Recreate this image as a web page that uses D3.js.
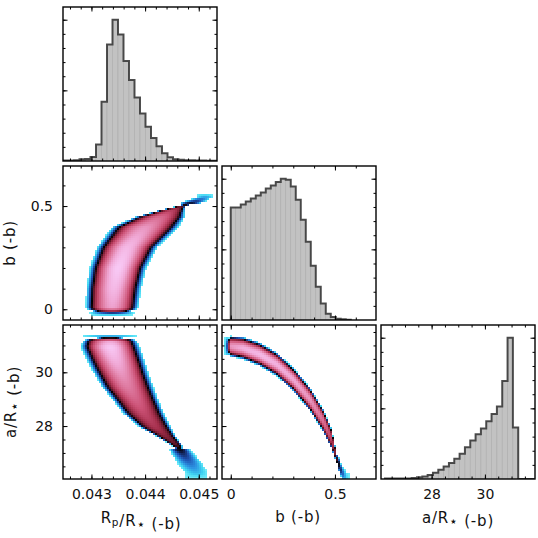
<!DOCTYPE html>
<html>
<head>
<meta charset="utf-8">
<script src="https://cdn.jsdelivr.net/npm/d3@7"></script>
<style>
  body { margin: 0; background: #fff; }
  svg text { font-family: 'DejaVu Sans', 'Liberation Sans', sans-serif; fill: #111; }
</style>
</head>
<body>
<svg id="chart" width="538" height="538"></svg>
<script>
// ---- values ----

// axis limits
const rpRange = [0.04247, 0.04534];
const bRangeX = [-0.042, 0.697];
const bRangeY = [-0.052, 0.694];
const aRangeX = [26.1, 31.88];
const aRangeY = [26.03, 31.76];

// tick values and labels
const rpMinor = d3.range(213, 227).map(k => k * 0.0002);
const rpMajor = [0.043, 0.044, 0.045];
const rpLabels = ['0.043', '0.044', '0.045'];
const bMinor = [0, 0.1, 0.2, 0.3, 0.4, 0.5, 0.6];
const bMajor = [0, 0.5];
const bLabels = ['0', '0.5'];
const aMinor = [26.5, 27, 27.5, 28, 28.5, 29, 29.5, 30, 30.5, 31, 31.5];
const aMajor = [28, 30];
const aLabels = ['28', '30'];

// 1-d histograms (relative counts)
const rpBinStart = 0.04247, rpBinWidth = 0.0001025;
const rpCounts = [4, 4, 6, 12, 14, 28, 116, 419, 824, 1000, 896, 708, 574, 449,
  337, 243, 163, 104, 55, 27, 13, 8, 6, 5, 4, 3, 2, 2];
const bBinStart = 0, bBinWidth = 0.024;
const bCounts = [796, 796, 817, 839, 860, 881, 903, 931, 952, 977, 1000, 993, 945,
  851, 709, 554, 384, 235, 116, 45, 21, 9, 5, 2];
const aBinStart = 26.25, aBinWidth = 0.2;
const aCounts = [4, 4, 4, 4, 4, 7, 12, 17, 29, 45, 65, 88, 113, 144, 178, 225, 273,
  317, 358, 408, 460, 513, 693, 1000, 365, 0, 0, 0];

// Rp vs b cloud, sampled along b: ridge centre, half width to the dark edge, peak level
const rbB = [-0.032, -0.022, -0.012, -0.004, 0.01, 0.1, 0.2, 0.3, 0.398, 0.447, 0.479,
  0.495, 0.519, 0.544, 0.56];
const rbRp = [0.043383, 0.043383, 0.043383, 0.043383, 0.043385, 0.043417, 0.043495,
  0.043668, 0.044004, 0.044277, 0.0445, 0.044637, 0.044898, 0.045115, 0.045115];
const rbHalf = [0.0003, 0.0003, 0.00034, 0.00037, 0.00038, 0.000394, 0.00041, 0.000435,
  0.000484, 0.000385, 0.000224, 0.000125, 0.00016, 0.00012, 0.00012];
const rbPeak = [0, 0.15, 0.4, 0.7, 0.88, 0.95, 1.0, 0.95, 0.85, 0.72, 0.58, 0.45, 0.28, 0.12, 0];

// Rp vs a/R* cloud, sampled along a/R*
const raA = [26.05, 26.24, 26.61, 26.98, 27.29, 27.6, 27.97, 28.47, 28.97, 29.46,
  29.96, 30.46, 30.95, 31.14, 31.25, 31.33, 31.4];
const raRp = [0.04496, 0.04496, 0.044836, 0.044699, 0.044587, 0.044401, 0.044184,
  0.043973, 0.043824, 0.043675, 0.043557, 0.043451, 0.043352, 0.043345, 0.043345,
  0.043345, 0.043345];
const raHalf = [0.00016, 0.00016, 0.00018, 0.00016, 0.00013, 0.000186, 0.000279,
  0.000335, 0.000354, 0.000385, 0.000397, 0.000416, 0.000428, 0.000397, 0.000397,
  0.000397, 0.000397];
const raPeak = [0, 0.09, 0.18, 0.28, 0.42, 0.48, 0.55, 0.62, 0.7, 0.78, 0.85, 0.93,
  1.0, 0.9, 0.5, 0.15, 0];

// b vs a/R* cloud, sampled along b
const baB = [-0.03, -0.02, -0.01, 0, 0.059, 0.139, 0.22, 0.30, 0.38, 0.444, 0.484, 0.508, 0.532, 0.556, 0.57];
const baA = [30.97, 30.97, 30.97, 30.97, 30.90, 30.67, 30.30, 29.74, 29.0, 28.20, 27.52, 26.80, 26.30, 26.05, 26.0];
const baHalf = [0.26, 0.27, 0.29, 0.298, 0.323, 0.341, 0.341, 0.341, 0.341, 0.341, 0.335, 0.223, 0.186, 0.186, 0.186];
const baPeak = [0, 0.15, 0.5, 0.85, 0.92, 0.95, 0.93, 0.9, 0.85, 0.75, 0.6, 0.42, 0.25, 0.05, 0];

// axis titles: [text, subscript?]
const rpTitle = [['R'], ['p', 1], ['/R'], ['\u22C6', 2], [' (-b)']];
const bTitle = [['b (-b)']];
const aTitle = [['a/R'], ['\u22C6', 2], [' (-b)']];

// ---- layout ----
const SIZE = 154;
const colX = [63, 222, 381];
const rowY = [7, 166, 325];
const CELLS = 77;
const LB = 0.36;    // level where the colour map goes black
const FRINGE = 0.3; // width of the blue rim, in units of the half width

const svg = d3.select('#chart');

const xRp = d3.scaleLinear().domain(rpRange).range([colX[0], colX[0] + SIZE]);
const xB = d3.scaleLinear().domain(bRangeX).range([colX[1], colX[1] + SIZE]);
const xA = d3.scaleLinear().domain(aRangeX).range([colX[2], colX[2] + SIZE]);
const yB = d3.scaleLinear().domain(bRangeY).range([rowY[1] + SIZE, rowY[1]]);
const yA = d3.scaleLinear().domain(aRangeY).range([rowY[2] + SIZE, rowY[2]]);

const color = d3.scaleLinear()
  .domain([0, 0.06, 0.14, 0.22, 0.30, 0.36, 0.42, 0.52, 0.65, 0.8, 0.9, 1])
  .range(['#74ecf9', '#42d6f3', '#2c93e2', '#1f52b2', '#0f1a44', '#000000',
    '#5a1526', '#a02c48', '#cc5276', '#e283aa', '#f0a9d6', '#f8c9f5'])
  .clamp(true);

let clipId = 0;
function panel(col, row) {
  const id = 'clip' + (clipId++);
  svg.append('clipPath').attr('id', id).append('rect')
    .attr('x', colX[col]).attr('y', rowY[row]).attr('width', SIZE).attr('height', SIZE);
  return svg.append('g').attr('clip-path', `url(#${id})`);
}

function ridge(tArr, cArr, hArr, pArr) {
  const c = d3.scaleLinear(tArr, cArr).clamp(true);
  const h = d3.scaleLinear(tArr, hArr).clamp(true);
  const p = d3.scaleLinear(tArr, pArr).clamp(true);
  return (t, u) => {
    const pk = p(t);
    if (pk <= 0) return -1;
    const d = Math.abs(u - c(t)) / h(t);
    const k = Math.max(pk - LB, pk / 1.7);
    if (pk <= LB) return pk - k * d * d;
    const db = Math.sqrt((pk - LB) / k);
    return d <= db ? pk - k * d * d : LB * (1 - (d - db) / FRINGE);
  };
}

// alongY: ridge parameter is the y variable
function drawCloud(g, x, y, level, alongY) {
  const [x0, x1] = x.domain(), [y0, y1] = y.domain();
  const dx = (x1 - x0) / CELLS, dy = (y1 - y0) / CELLS;
  const cells = [];
  for (let i = 0; i < CELLS; i++) {
    for (let j = 0; j < CELLS; j++) {
      const xv = x0 + (i + 0.5) * dx, yv = y0 + (j + 0.5) * dy;
      const v = alongY ? level(yv, xv) : level(xv, yv);
      if (v > 0) cells.push({ xv, yv, v });
    }
  }
  g.selectAll(null).data(cells).enter().append('rect')
    .attr('x', d => x(d.xv - dx / 2))
    .attr('y', d => y(d.yv + dy / 2))
    .attr('width', x(x0 + dx) - x(x0))
    .attr('height', y(y0) - y(y0 + dy))
    .attr('fill', d => color(d.v))
    .attr('shape-rendering', 'crispEdges');
}

function drawHist(g, x, start, width, counts, row) {
  const y = d3.scaleLinear().domain([0, d3.max(counts) * 1.09])
    .range([rowY[row] + SIZE, rowY[row]]);
  const bins = counts.map((c, i) => ({ x0: start + i * width, x1: start + (i + 1) * width, c }));
  g.selectAll(null).data(bins).enter().append('rect')
    .attr('x', d => x(d.x0))
    .attr('width', d => x(d.x1) - x(d.x0))
    .attr('y', d => y(d.c))
    .attr('height', d => y(0) - y(d.c))
    .attr('fill', '#c2c2c2')
    .attr('stroke', '#acacac')
    .attr('stroke-width', 0.6);
  const pts = [[bins[0].x0, 0]];
  bins.forEach(d => pts.push([d.x0, d.c], [d.x1, d.c]));
  pts.push([bins[bins.length - 1].x1, 0]);
  g.append('path')
    .attr('d', d3.line().x(p => x(p[0])).y(p => y(p[1]))(pts))
    .attr('fill', 'none')
    .attr('stroke', '#333')
    .attr('stroke-opacity', 0.85)
    .attr('stroke-width', 2);
  return y;
}

function tickSet(scale, axisFn, values, len, tx, ty) {
  svg.append('g')
    .attr('transform', `translate(${tx},${ty})`)
    .call(axisFn(scale).tickValues(values).tickSize(-len).tickSizeOuter(0).tickFormat(''))
    .call(s => s.select('.domain').remove())
    .selectAll('line').attr('stroke', '#000').attr('stroke-width', 1);
}

function frame(col, row, x, y, xt, yt) {
  const l = colX[col], t = rowY[row], r = l + SIZE, b = t + SIZE;
  [[xt[0], 2.5], [xt[1], 4.5]].forEach(([v, len]) => {
    tickSet(x, d3.axisBottom, v, len, 0, b);
    tickSet(x, d3.axisTop, v, len, 0, t);
  });
  [[yt[0], 2.5], [yt[1], 4.5]].forEach(([v, len]) => {
    tickSet(y, d3.axisLeft, v, len, l, 0);
    tickSet(y, d3.axisRight, v, len, r, 0);
  });
  svg.append('rect')
    .attr('x', l).attr('y', t).attr('width', SIZE).attr('height', SIZE)
    .attr('fill', 'none').attr('stroke', '#000').attr('stroke-width', 1.4);
}

function labels(scale, axisFn, values, texts, tx, ty, pad) {
  svg.append('g')
    .attr('transform', `translate(${tx},${ty})`)
    .call(axisFn(scale).tickValues(values).tickSize(0).tickPadding(pad)
      .tickFormat((d, i) => texts[i]))
    .call(s => s.select('.domain').remove())
    .call(s => s.attr('font-family', null).attr('font-size', null))
    .selectAll('text').style('font-size', '14px');
}

// sub: 1 = subscript letter, 2 = subscript star
function title(parts, x, y, rotate) {
  const t = svg.append('text')
    .attr('text-anchor', 'middle')
    .attr('transform', `translate(${x},${y})` + (rotate ? ' rotate(-90)' : ''))
    .style('font-size', '15px')
    .style('letter-spacing', '0.8px');
  parts.forEach(([s, sub]) => {
    t.append('tspan')
      .attr('dy', sub ? 3 : 0)
      .style('font-size', sub === 2 ? '14px' : sub ? '10.5px' : '15px')
      .text(s);
    if (sub) t.append('tspan').attr('dy', -3).text('');
  });
}

// ---- diagonal histograms ----
const yHrp = drawHist(panel(0, 0), xRp, rpBinStart, rpBinWidth, rpCounts, 0);
const yHb = drawHist(panel(1, 1), xB, bBinStart, bBinWidth, bCounts, 1);
const yHa = drawHist(panel(2, 2), xA, aBinStart, aBinWidth, aCounts, 2);

function histTicks(y) {
  const m = y.domain()[1] / 1.09;
  return [d3.range(1, 11).map(k => k * m / 10), [m / 2, m]];
}

// ---- 2-d clouds ----
drawCloud(panel(0, 1), xRp, yB, ridge(rbB, rbRp, rbHalf, rbPeak), true);
drawCloud(panel(0, 2), xRp, yA, ridge(raA, raRp, raHalf, raPeak), true);
drawCloud(panel(1, 2), xB, yA, ridge(baB, baA, baHalf, baPeak), false);

// ---- frames and ticks ----
frame(0, 0, xRp, yHrp, [rpMinor, rpMajor], histTicks(yHrp));
frame(0, 1, xRp, yB, [rpMinor, rpMajor], [bMinor, bMajor]);
frame(1, 1, xB, yHb, [bMinor, bMajor], histTicks(yHb));
frame(0, 2, xRp, yA, [rpMinor, rpMajor], [aMinor, aMajor]);
frame(1, 2, xB, yA, [bMinor, bMajor], [aMinor, aMajor]);
frame(2, 2, xA, yHa, [aMinor, aMajor], histTicks(yHa));

// ---- tick labels ----
const bottom = rowY[2] + SIZE;
labels(xRp, d3.axisBottom, rpMajor, rpLabels, 0, bottom, 10);
labels(xB, d3.axisBottom, bMajor, bLabels, 0, bottom, 10);
labels(xA, d3.axisBottom, aMajor, aLabels, 0, bottom, 10);
labels(yB, d3.axisLeft, bMajor, bLabels, colX[0], 0, 10);
labels(yA, d3.axisLeft, aMajor, aLabels, colX[0], 0, 10);

// ---- axis titles ----
title(rpTitle, colX[0] + SIZE / 2 + 1, 523, false);
title(bTitle, colX[1] + SIZE / 2 - 1, 522, false);
title(aTitle, colX[2] + SIZE / 2, 523, false);
title(bTitle, 15, rowY[1] + SIZE / 2, true);
title(aTitle, 16, rowY[2] + SIZE / 2, true);
</script>
</body>
</html>
